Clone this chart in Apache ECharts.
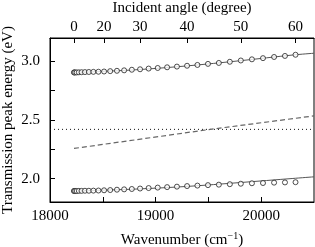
<!DOCTYPE html>
<html>
<head>
<meta charset="utf-8">
<script src="https://cdn.jsdelivr.net/npm/echarts@6/dist/echarts.min.js"></script>
<style>html,body{margin:0;padding:0;background:#fff}#c{width:315px;height:247px}</style>
</head>
<body>
<div id="c"></div>
<script>
// Top axis: incident angle tick labels and their wavenumber positions
const angleTicks = [0, 20, 30, 40, 50, 60];
const angleTickWavenumbers = [18227, 18512, 18853, 19298, 19807, 20325];

// Measured points (circles), one per 2 degrees of incident angle
const circleWavenumbers = [18227, 18230, 18239, 18253, 18273, 18299, 18331, 18368, 18411, 18459, 18512, 18570, 18634, 18702, 18775, 18853, 18934, 19020, 19109, 19202, 19298, 19396, 19496, 19599, 19703, 19807, 19912, 20017, 20122, 20225, 20325];
const upperEnergies = [2.906, 2.906, 2.906, 2.906, 2.907, 2.908, 2.909, 2.910, 2.911, 2.912, 2.914, 2.917, 2.920, 2.924, 2.929, 2.933, 2.939, 2.944, 2.950, 2.956, 2.963, 2.970, 2.979, 2.987, 2.997, 3.008, 3.018, 3.028, 3.038, 3.047, 3.057];
const lowerEnergies = [1.894, 1.894, 1.894, 1.894, 1.895, 1.895, 1.896, 1.896, 1.897, 1.898, 1.900, 1.902, 1.905, 1.908, 1.911, 1.915, 1.919, 1.923, 1.927, 1.931, 1.936, 1.940, 1.944, 1.948, 1.952, 1.956, 1.960, 1.962, 1.965, 1.967, 1.969];

// Calculated curves
const upperLineWavenumbers = [18227, 18800, 19300, 19800, 20300, 20500];
const upperLineEnergies = [2.905, 2.928, 2.962, 3.006, 3.055, 3.070];
const lowerLineWavenumbers = [18227, 18800, 19300, 19800, 20300, 20500];
const lowerLineEnergies = [1.894, 1.910, 1.933, 1.966, 2.001, 2.015];
const dashedWavenumbers = [18227, 19500, 20500];
const dashedEnergies = [2.257, 2.418, 2.535];
const dottedWavenumbers = [18000, 20500];
const dottedEnergies = [2.42, 2.42];

// Axis ticks
const xLabelValues = [18000, 19000, 20000];
const xTickValues = [18500, 19000, 19500, 20000];
const yLabelValues = [2.0, 2.5, 3.0];
const yTickValues = [2.0, 2.25, 2.5, 2.75, 3.0];

const zip = (xs, ys) => xs.map((x, i) => [x, ys[i]]);
const font = 'Liberation Serif';
const fs = 15;
const ink = '#000';
const lineCol = '#555';

const chart = echarts.init(document.getElementById('c'), null, {renderer: 'canvas'});
chart.setOption({
  animation: false,
  backgroundColor: '#fff',
  grid: {left: 50, right: 1, top: 38, bottom: 45, outerBoundsMode: 'none', containLabel: false, show: true, borderColor: ink, borderWidth: 1, backgroundColor: 'transparent'},
  graphic: [{
    type: 'text', x: 8, y: 120, rotation: Math.PI / 2,
    style: {text: 'Transmission peak energy (eV)', fontFamily: font, fontSize: fs, fill: ink, textAlign: 'center', textVerticalAlign: 'middle'}
  }],
  xAxis: [{
    type: 'value', min: 18000, max: 20500, interval: 500, position: 'bottom',
    name: 'Wavenumber (cm{sup|\u22121})', nameLocation: 'middle', nameGap: 29,
    nameTextStyle: {fontFamily: font, fontSize: fs, color: ink, rich: {sup: {fontFamily: font, fontSize: 10, color: ink, verticalAlign: 'top', padding: [0, 0, 8, 0]}}},
    axisLine: {show: true, lineStyle: {color: ink, width: 1}},
    axisTick: {show: true, inside: true, length: 5, customValues: xTickValues, lineStyle: {color: ink}},
    axisLabel: {customValues: xLabelValues, margin: 7, fontFamily: font, fontSize: fs, color: ink, formatter: v => String(v)},
    splitLine: {show: false}
  }, {
    type: 'value', min: 18000, max: 20500, position: 'top',
    name: 'Incident angle (degree)', nameLocation: 'middle', nameGap: 21,
    nameTextStyle: {fontFamily: font, fontSize: fs, color: ink},
    axisLine: {show: true, lineStyle: {color: ink, width: 1}},
    axisTick: {show: true, inside: true, length: 5, customValues: angleTickWavenumbers, lineStyle: {color: ink}},
    axisLabel: {
      customValues: angleTickWavenumbers, margin: 3, fontFamily: font, fontSize: fs, color: ink,
      formatter: v => { const i = angleTickWavenumbers.indexOf(v); return i >= 0 ? String(angleTicks[i]) : ''; }
    },
    splitLine: {show: false}
  }],
  yAxis: [{
    type: 'value', min: 1.8, max: 3.2,
    axisLine: {show: true, lineStyle: {color: ink, width: 1}},
    axisTick: {show: true, inside: true, length: 5, customValues: yTickValues, lineStyle: {color: ink}},
    axisLabel: {customValues: yLabelValues, margin: 10, fontFamily: font, fontSize: fs, color: ink, formatter: v => v.toFixed(1)},
    splitLine: {show: false}
  }],
  series: [
    {type: 'line', data: zip(dottedWavenumbers, dottedEnergies), showSymbol: false, lineStyle: {color: '#111', width: 1, type: [1, 3]}, z: 1},
    {type: 'line', data: zip(dashedWavenumbers, dashedEnergies), showSymbol: false, lineStyle: {color: '#666', width: 1.2, type: [5, 3]}, z: 1},
    {type: 'line', data: zip(upperLineWavenumbers, upperLineEnergies), showSymbol: false, smooth: 0.3, lineStyle: {color: lineCol, width: 1}, z: 2},
    {type: 'line', data: zip(lowerLineWavenumbers, lowerLineEnergies), showSymbol: false, smooth: 0.3, lineStyle: {color: lineCol, width: 1}, z: 2},
    {type: 'scatter', data: zip(circleWavenumbers, upperEnergies), symbol: 'circle', symbolSize: 5, itemStyle: {color: '#fff', borderColor: '#222', borderWidth: 1}, z: 3},
    {type: 'scatter', data: zip(circleWavenumbers, lowerEnergies), symbol: 'circle', symbolSize: 5, itemStyle: {color: '#fff', borderColor: '#222', borderWidth: 1}, z: 3}
  ]
});
</script>
</body>
</html>
